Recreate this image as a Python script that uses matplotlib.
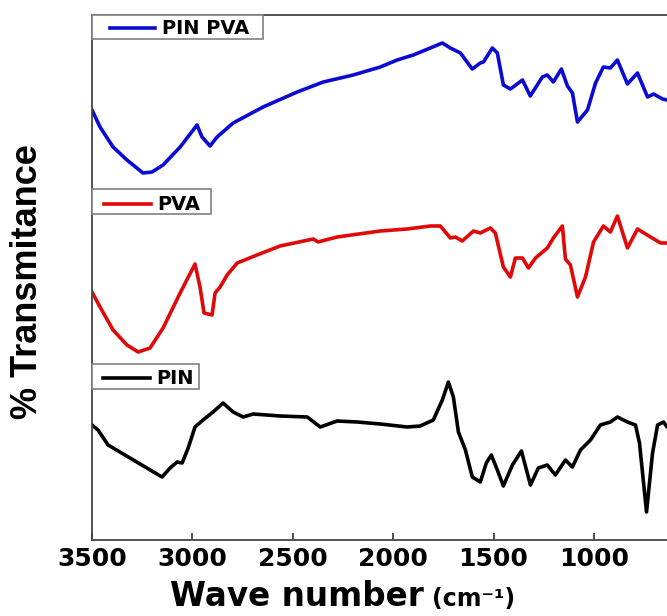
import matplotlib
matplotlib.use("Agg")
import matplotlib.pyplot as plt
from matplotlib.patches import Rectangle
from matplotlib.lines import Line2D

# ---- data (wavenumber in cm^-1, transmittance in arbitrary offset units) ----
wn_pinpva = [3500, 3460, 3395, 3326, 3246, 3201, 3146, 3061, 2977, 2952,
             2912, 2877, 2797, 2648, 2478, 2348, 2199, 2064, 1980, 1900,
             1815, 1755, 1715, 1665, 1606, 1566, 1550, 1506, 1481, 1451,
             1416, 1356, 1317, 1257, 1232, 1202, 1162, 1132, 1107, 1082,
             1032, 992, 953, 918, 883, 833, 783, 733, 703, 658, 636]
t_pinpva = [430, 413, 393, 380, 367, 368, 375, 393, 415, 403,
            394, 403, 417, 433, 448, 458, 465, 473, 480, 485,
            492, 497, 492, 487, 471, 477, 478, 492, 487, 455,
            451, 460, 444, 463, 465, 458, 471, 454, 447, 418,
            430, 457, 473, 472, 480, 456, 467, 443, 446, 441, 440]

wn_pva = [3500, 3460, 3395, 3326, 3270, 3211, 3146, 3061, 2987, 2962,
          2942, 2902, 2887, 2862, 2827, 2777, 2678, 2563, 2398, 2373,
          2338, 2279, 2064, 1930, 1815, 1765, 1715, 1690, 1656, 1600,
          1566, 1516, 1491, 1451, 1416, 1391, 1356, 1326, 1291, 1232,
          1202, 1157, 1142, 1117, 1082, 1042, 1002, 953, 918, 883,
          833, 783, 718, 668, 636]
t_pva = [248, 233, 210, 195, 188, 192, 212, 247, 276, 253,
         227, 225, 247, 253, 265, 277, 285, 294, 301, 298,
         300, 303, 309, 311, 314, 314, 302, 303, 299, 309,
         307, 312, 307, 273, 263, 282, 282, 272, 282, 292,
         302, 314, 281, 275, 243, 263, 298, 314, 308, 324,
         292, 311, 303, 297, 297]

wn_pin = [3500, 3470, 3420, 3151, 3111, 3076, 3051, 3021, 2987, 2947,
          2897, 2847, 2797, 2747, 2697, 2563, 2428, 2363, 2279, 2179,
          2064, 1930, 1865, 1800, 1755, 1725, 1700, 1675, 1640, 1606,
          1566, 1536, 1511, 1481, 1451, 1406, 1361, 1336, 1316, 1277,
          1232, 1192, 1142, 1107, 1067, 1017, 968, 918, 883, 833,
          793, 773, 738, 708, 683, 653, 636]
t_pin = [115, 110, 95, 63, 72, 78, 77, 92, 113, 120,
         128, 137, 128, 123, 126, 124, 123, 113, 119, 118,
         116, 113, 114, 120, 140, 158, 143, 108, 90, 63,
         58, 77, 85, 70, 54, 75, 89, 70, 55, 72,
         75, 65, 80, 73, 90, 100, 115, 118, 123, 118,
         115, 97, 28, 87, 115, 118, 113]

series_labels = ["PIN PVA", "PVA", "PIN"]
series_colors = ["#0a0ad2", "#e00808", "#000000"]
xticks = [3500, 3000, 2500, 2000, 1500, 1000]

W, H = 667, 616
fig = plt.figure(figsize=(W / 100, H / 100), dpi=100)
ax = fig.add_axes([92 / W, (H - 540) / H, (W - 92) / W, 525 / H])

for wn, t, c in zip([wn_pinpva, wn_pva, wn_pin], [t_pinpva, t_pva, t_pin], series_colors):
    ax.plot(wn, t, color=c, lw=2.6, solid_joinstyle="round", solid_capstyle="round")

ax.set_xlim(3500, 636)
ax.set_ylim(0, 525)
ax.set_xticks(xticks)
ax.set_xticklabels([str(v) for v in xticks])
ax.set_yticks([])
ax.tick_params(axis="x", direction="in", length=5, width=1.2, color="#333333", pad=5,
               labelsize=18)
for lab in ax.get_xticklabels():
    lab.set_fontweight("bold")
    lab.set_family("DejaVu Sans")
for s in ["left", "bottom", "top"]:
    ax.spines[s].set_color("#444444")
    ax.spines[s].set_linewidth(1.3)
ax.spines["right"].set_visible(False)

# axis labels
fig.text(28 / W, 1 - 282 / H, "% Transmitance", rotation=90, ha="center", va="center",
         fontsize=26, fontweight="bold", family="Liberation Sans")
fig.text(424 / W, 1 - 606 / H, "Wave number", ha="right", va="baseline",
         fontsize=23.5, fontweight="bold", family="DejaVu Sans")
fig.text(432 / W, 1 - 606 / H, "(cm\u207b\u00b9)", ha="left", va="baseline",
         fontsize=17, fontweight="bold", family="DejaVu Sans")

# legend boxes (pixel layout)
boxes = [  # x0, x1, y0, y1, line x0, line x1, line y, text x
    (92, 263, 15, 39, 110, 155, 28, 162),
    (92, 211, 189, 214, 104, 151, 204, 157),
    (92, 199, 364, 389, 103, 150, 378, 156),
]
for (x0, x1, y0, y1, lx0, lx1, ly, tx), lab, c in zip(boxes, series_labels, series_colors):
    fig.patches.append(Rectangle((x0 / W, 1 - y1 / H), (x1 - x0) / W, (y1 - y0) / H,
                                 transform=fig.transFigure, facecolor="white",
                                 edgecolor="#808080", lw=1.2, zorder=5))
    fig.lines.append(Line2D([lx0 / W, lx1 / W], [1 - ly / H, 1 - ly / H],
                            transform=fig.transFigure, color=c, lw=2.6, zorder=6))
    fig.text(tx / W, 1 - ly / H, lab, ha="left", va="center", fontsize=14,
             fontweight="bold", family="DejaVu Sans", zorder=7)

fig.savefig("out.png", dpi=100)
